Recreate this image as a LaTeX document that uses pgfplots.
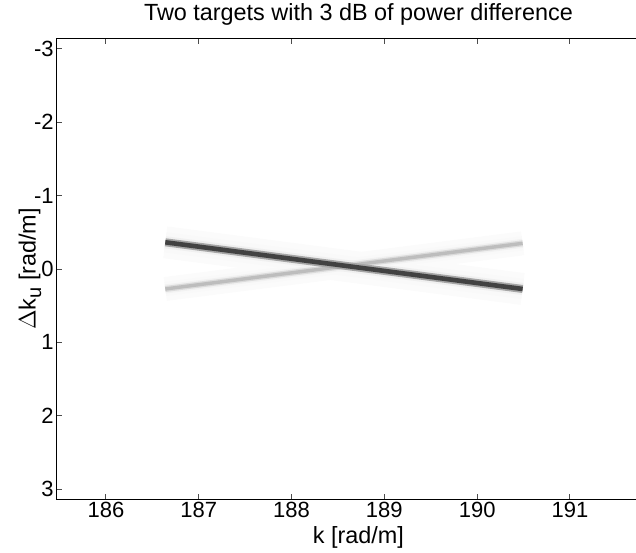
\documentclass[border=0pt]{standalone}
\usepackage{pgfplots}
\pgfplotsset{compat=1.18}
\usepackage{fontspec}
\setmainfont{Liberation Sans}
\begin{document}
\begin{tikzpicture}
\begin{scope}
\clip (-28.35pt,-26.2pt) rectangle (289.65pt,249.8pt);
\begin{axis}[name=ax, at={(0,0)}, anchor=south west,
  scale only axis, width=320pt, height=230.6pt,
  axis x line*=box, axis y line*=left,
  xmin=185.47, xmax=192.3656, ymin=-3.1416, ymax=3.1416, y dir=reverse,
  xtick={186,187,188,189,190,191}, xticklabels={186,187,188,189,190,191},
  ytick={-3,-2,-1,0,1,2,3}, yticklabels={-3,-2,-1,0,1,2,3},
  tick align=inside, major tick length=2.8pt,
  ticklabel style={font=\fontsize{11}{13}\selectfont},
  xticklabel style={yshift=2.5pt},
  yticklabel style={xshift=2pt},
  axis line style={-, line width=0.6pt},
  every tick/.style={black!70, line width=0.5pt},
  title={Two targets with 3 dB of power difference},
  title style={at={(axis description cs:0.4714,1.012)}, anchor=base, font=\fontsize{11.7}{14}\selectfont},
  xlabel={k [rad/m]},
  xlabel style={at={(axis description cs:0.4714,-0.0824)}, anchor=center, font=\fontsize{11.7}{14}\selectfont},
  ylabel={$\Delta$k\raisebox{-0.45ex}{\fontsize{10}{10}\selectfont u} [rad/m]},
  ylabel style={at={(axis description cs:-0.04172,0.5)}, anchor=center, font=\fontsize{11.7}{14}\selectfont},
]
% faint halos
\addplot[no marks, line width=16pt, black!1.5, line cap=butt] coordinates {(186.64,-0.364) (190.49,0.272)};
\addplot[no marks, line width=12pt, black!1.5, line cap=butt] coordinates {(186.64,0.272) (190.49,-0.350)};
\addplot[no marks, line width=10pt, black!2.5, line cap=butt] coordinates {(186.64,-0.364) (190.49,0.272)};
\addplot[no marks, line width=7pt, black!2.5, line cap=butt] coordinates {(186.64,0.272) (190.49,-0.350)};
\addplot[no marks, line width=6pt, black!6, line cap=butt] coordinates {(186.64,-0.364) (190.49,0.272)};
\addplot[no marks, line width=4.5pt, black!5, line cap=butt] coordinates {(186.64,0.272) (190.49,-0.350)};
% light line
\addplot[no marks, line width=3pt, black!14, line cap=butt] coordinates {(186.64,0.272) (190.49,-0.350)};
\addplot[no marks, line width=1.7pt, black!26, line cap=butt] coordinates {(186.64,0.272) (190.49,-0.350)};
% dark line
\addplot[no marks, line width=4pt, black!35, line cap=butt] coordinates {(186.64,-0.364) (190.49,0.272)};
\addplot[no marks, line width=2.3pt, black!74, line cap=butt] coordinates {(186.64,-0.364) (190.49,0.272)};
\end{axis}
\end{scope}
\fill[white] (288.6pt,0.4pt) rectangle (290pt,230.2pt);
\pgfresetboundingbox
\path[use as bounding box] (-28.35pt,-26.2pt) rectangle (289.65pt,249.8pt);
\end{tikzpicture}
\end{document}
